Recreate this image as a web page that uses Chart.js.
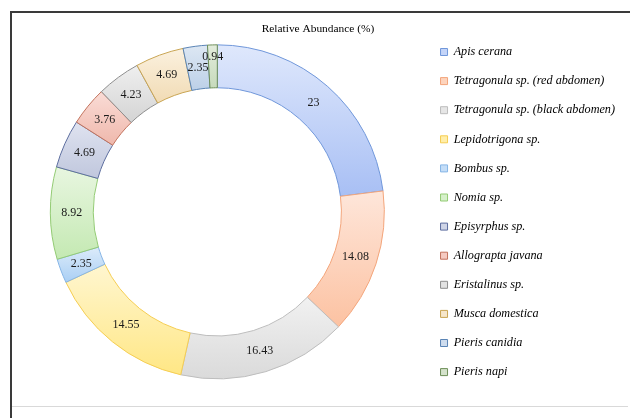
<!DOCTYPE html>
<html>
<head>
<meta charset="utf-8">
<script src="https://cdn.jsdelivr.net/npm/chart.js@4.4.0/dist/chart.umd.min.js"></script>
<style>
    body { margin: 0; background: #fff; }
    #wrap { position: relative; width: 630px; height: 418px; overflow: hidden; }
    #myChart { position: absolute; left: 0; top: 0; }
    .frame { position: absolute; left: 10px; top: 11px; width: 625px; height: 420px;
        border-top: 2px solid #3a3a3a; border-left: 2px solid #3a3a3a; pointer-events: none; }
    .baseLine { position: absolute; left: 12px; top: 406px; width: 616px; height: 1px;
        background: #d9d9d9; pointer-events: none; }
</style>
</head>
<body>
<div id="wrap">
    <canvas id="myChart" width="630" height="418"></canvas>
    <div class="frame"></div>
    <div class="baseLine"></div>
</div>
<script>
const species = [
    'Apis cerana',
    'Tetragonula sp. (red abdomen)',
    'Tetragonula sp. (black abdomen)',
    'Lepidotrigona sp.',
    'Bombus sp.',
    'Nomia sp.',
    'Episyrphus sp.',
    'Allograpta javana',
    'Eristalinus sp.',
    'Musca domestica',
    'Pieris canidia',
    'Pieris napi',
];
const abundance = [23, 14.08, 16.43, 14.55, 2.35, 8.92, 4.69, 3.76, 4.23, 4.69, 2.35, 0.94];

// 조각 색 (위쪽 밝은색 -> 아래쪽 진한색)
const topColors = ['#dfe8fc', '#fee6da', '#f1f1f1', '#fff6d0', '#dcebfa', '#e8f6e0',
    '#dfe3f0', '#fadcd6', '#efefef', '#fbf1df', '#dde7f3', '#e3ecdc'];
const bottomColors = ['#a8bff4', '#fcc2a2', '#dadada', '#ffe785', '#aacff4', '#c4e9b2',
    '#c0c7dd', '#efb8ac', '#d4d4d4', '#f1dbb4', '#bcd0e8', '#c6dabb'];
const borderColors = ['#7097da', '#f3a57b', '#bdbdbd', '#f5cd52', '#86b5e6', '#93cb74',
    '#5d6e9f', '#c2725c', '#8e8e8e', '#c9a553', '#5a84b5', '#6e8f59'];
const legendFill = ['#c4d4f8', '#fdd4bd', '#e6e6e6', '#ffeeaa', '#c4ddf7', '#d6f0ca',
    '#cfd5e7', '#f5cac1', '#e2e2e2', '#f6e6ca', '#cedcee', '#d5e3cc'];

const serif = '"Liberation Serif", "Times New Roman", serif';

function arcGradient(context) {
    const i = context.dataIndex;
    const chart = context.chart;
    const el = chart.getDatasetMeta(0).data[i];
    if (!el || !el.outerRadius) {
        return legendFill[i];
    }
    let minY = Infinity;
    let maxY = -Infinity;
    for (let s = 0; s <= 24; s++) {
        const a = el.startAngle + (el.endAngle - el.startAngle) * s / 24;
        [el.innerRadius, el.outerRadius].forEach((r) => {
            const y = el.y + r * Math.sin(a);
            minY = Math.min(minY, y);
            maxY = Math.max(maxY, y);
        });
    }
    const g = chart.ctx.createLinearGradient(0, minY, 0, maxY);
    g.addColorStop(0, topColors[i]);
    g.addColorStop(1, bottomColors[i]);
    return g;
}

// 조각 위 숫자 표시
const valueLabels = {
    id: 'valueLabels',
    afterDatasetsDraw(chart) {
        const ctx = chart.ctx;
        const meta = chart.getDatasetMeta(0);
        ctx.save();
        ctx.font = '12px ' + serif;
        ctx.fillStyle = '#1a1a1a';
        ctx.textAlign = 'center';
        ctx.textBaseline = 'middle';
        meta.data.forEach((el, i) => {
            const mid = (el.startAngle + el.endAngle) / 2;
            let r = (el.innerRadius + el.outerRadius) / 2;
            if (abundance[i] < 1) r = el.outerRadius - 12;
            ctx.fillText(String(abundance[i]), el.x + r * Math.cos(mid), el.y + r * Math.sin(mid));
        });
        ctx.restore();
    },
};

const data = {
    labels: species,
    datasets: [
        {
            data: abundance,
            backgroundColor: arcGradient,
            borderColor: borderColors,
            borderWidth: 1,
            radius: 167,
            cutout: '74.3%',
        },
    ],
};

const options = {
    responsive: false,
    maintainAspectRatio: false,
    animation: false,
    layout: {
        padding: { left: 11, right: 5, top: 0, bottom: 20 },
    },
    plugins: {
        tooltip: { enabled: false },
        title: {
            display: true,
            text: 'Relative Abundance (%)',
            color: '#000',
            font: { family: serif, size: 11.4, weight: 'normal' },
            padding: { top: 22.5, bottom: -10.5 },
        },
        legend: {
            position: 'right',
            align: 'start',
            title: {
                display: true,
                text: ' ',
                font: { size: 1 },
                padding: { top: 27.8, bottom: 0 },
            },
            labels: {
                boxWidth: 7,
                boxHeight: 7,
                padding: 16.9,
                color: '#000',
                font: { family: serif, size: 12.2, style: 'italic' },
                generateLabels(chart) {
                    return species.map((name, i) => ({
                        text: name,
                        fillStyle: legendFill[i],
                        strokeStyle: borderColors[i],
                        fontColor: '#000',
                        lineWidth: 1,
                        hidden: false,
                        index: i,
                    }));
                },
            },
        },
    },
};

const ctx = document.getElementById('myChart').getContext('2d');
const myChart = new Chart(ctx, {
    type: 'doughnut',
    data: data,
    options: options,
    plugins: [valueLabels],
});
// 첫 배치 후 위치를 알게 되면 그라데이션 다시 계산
myChart.update('none');
</script>
</body>
</html>
